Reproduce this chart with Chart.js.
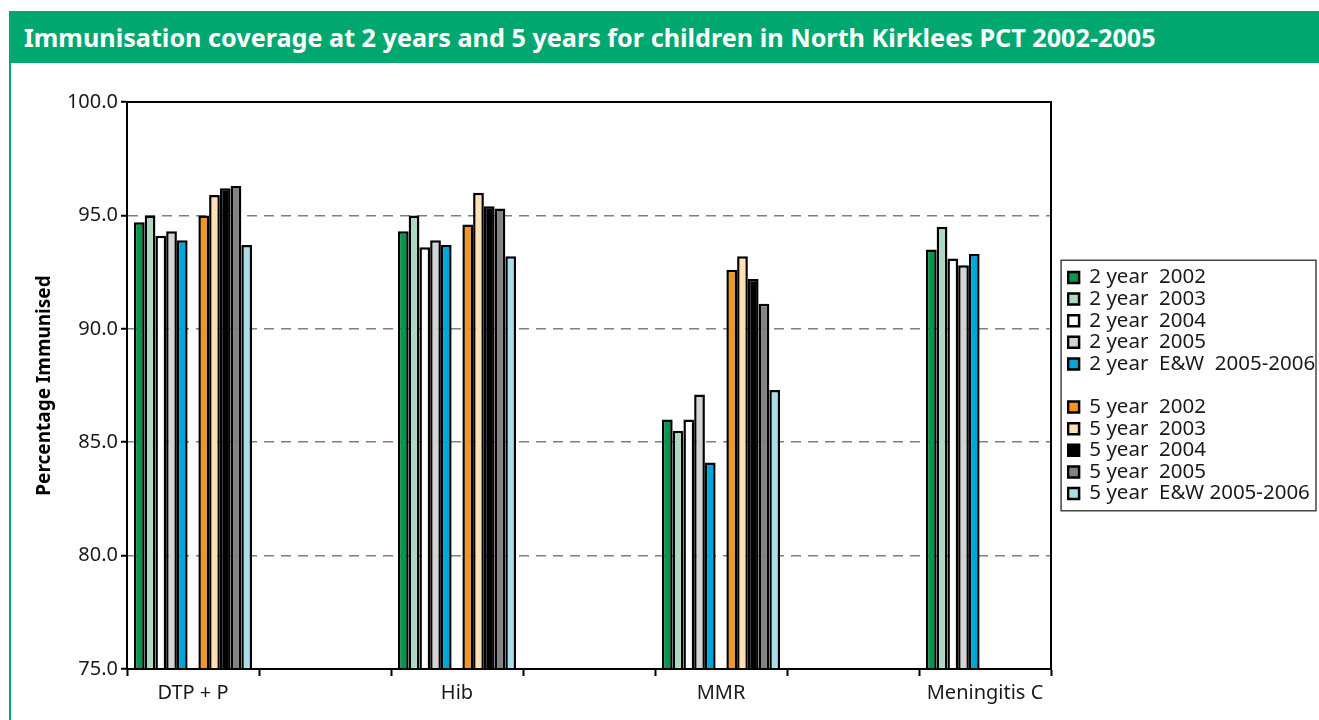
<!DOCTYPE html>
<html>
<head>
<meta charset="utf-8">
<title>Immunisation coverage - North Kirklees PCT</title>
<script src="https://cdn.jsdelivr.net/npm/chart.js@4.4.0/dist/chart.umd.min.js"></script>
<style>
    html, body { margin: 0; padding: 0; background: #fff; }
    body { width: 1319px; height: 720px; position: relative; overflow: hidden; font-family: "Noto Sans", sans-serif; }
    .title-bar {
        position: absolute; left: 9px; top: 11px; right: 0; height: 52px;
        background: #00a870; color: #fff; font-weight: bold; font-size: 25.2px;
        line-height: 52px; padding-left: 15px; box-sizing: border-box; white-space: nowrap;
    }
    .left-rule { position: absolute; left: 9px; top: 63px; bottom: 0; width: 2px; background: #00a870; }
    .chart-wrap { position: absolute; left: 0; top: 0; width: 1319px; height: 720px; }
</style>
</head>
<body>
<div class="chart-wrap"><canvas id="coverageChart" width="1319" height="720"></canvas></div>
<div class="title-bar">Immunisation coverage at 2 years and 5 years for children in North Kirklees PCT 2002-2005</div>
<div class="left-rule"></div>

<script>
// Vaccines on the x axis
const categories = ['DTP + P', 'Hib', 'MMR', 'Meningitis C'];

// % immunised at 2 years
const twoYear2002 = [94.7, 94.3, 86.0, 93.5];
const twoYear2003 = [95.0, 95.0, 85.5, 94.5];
const twoYear2004 = [94.1, 93.6, 86.0, 93.1];
const twoYear2005 = [94.3, 93.9, 87.1, 92.8];
const twoYearEW   = [93.9, 93.7, 84.1, 93.3];

// % immunised at 5 years (no Meningitis C figures)
const fiveYear2002 = [95.0, 94.6, 92.6, null];
const fiveYear2003 = [95.9, 96.0, 93.2, null];
const fiveYear2004 = [96.2, 95.4, 92.2, null];
const fiveYear2005 = [96.3, 95.3, 91.1, null];
const fiveYearEW   = [93.7, 93.2, 87.3, null];

const yTicks = [75, 80, 85, 90, 95, 100];

// the original leaves an empty slot between each vaccine group
function spaced(arr) {
    const out = [];
    arr.forEach((v, i) => {
        out.push(v);
        if (i < arr.length - 1) out.push(typeof v === 'string' ? '' : null);
    });
    return out;
}

function bars(label, values, colour) {
    return {
        label: label,
        data: spaced(values),
        backgroundColor: colour,
        borderColor: '#000',
        borderWidth: 2.5,
        borderSkipped: 'bottom',
        categoryPercentage: 0.895,
        barPercentage: 1.0
    };
}

const datasets = [
    bars('2 year  2002', twoYear2002, '#009a4e'),
    bars('2 year  2003', twoYear2003, '#acd9bf'),
    bars('2 year  2004', twoYear2004, '#ffffff'),
    bars('2 year  2005', twoYear2005, '#d1d3d4'),
    bars('2 year  E&W  2005-2006', twoYearEW, '#00a6d6'),
    // spacer between the age groups, also gives the blank legend row
    { label: '', data: spaced([null, null, null, null]), backgroundColor: 'rgba(0,0,0,0)', borderColor: 'rgba(0,0,0,0)', borderWidth: 0, categoryPercentage: 0.895, barPercentage: 1.0 },
    bars('5 year  2002', fiveYear2002, '#f7941d'),
    bars('5 year  2003', fiveYear2003, '#ffdfb5'),
    bars('5 year  2004', fiveYear2004, '#000000'),
    bars('5 year  2005', fiveYear2005, '#808285'),
    bars('5 year  E&W 2005-2006', fiveYearEW, '#abdeed')
];

const textFont = { family: '"Noto Sans", sans-serif', size: 20 };

// black frame round the plot and a thin box round the legend
const framePlugin = {
    id: 'frame',
    afterDraw(chart) {
        const c = chart.ctx;
        const a = chart.chartArea;
        c.save();
        c.strokeStyle = '#000';
        c.lineWidth = 2;
        c.strokeRect(a.left, a.top, a.right - a.left, a.bottom - a.top);

        const boxes = chart.legend.legendHitBoxes;
        if (boxes && boxes.length) {
            const left = Math.min(...boxes.map(b => b.left)) - 7;
            const top = Math.min(...boxes.map(b => b.top)) - 7;
            const bottom = Math.max(...boxes.map(b => b.top + b.height)) + 7;
            c.strokeStyle = '#444';
            c.lineWidth = 1.5;
            c.strokeRect(left, top, chart.width - 3 - left, bottom - top);
        }
        c.restore();
    }
};

const ctx = document.getElementById('coverageChart').getContext('2d');
const chart = new Chart(ctx, {
    type: 'bar',
    data: {
        labels: spaced(categories),
        datasets: datasets
    },
    options: {
        responsive: false,
        animation: false,
        layout: { padding: { top: 102, right: 0, bottom: 0, left: 0 } },
        plugins: {
            tooltip: { enabled: false },
            legend: {
                position: 'right',
                fullSize: false,
                maxWidth: 300,
                labels: {
                    boxWidth: 11,
                    boxHeight: 11,
                    padding: 1.1,
                    color: '#1a1a1a',
                    font: { family: '"Noto Sans", sans-serif', size: 20.5 }
                }
            }
        },
        scales: {
            x: {
                grid: { drawOnChartArea: false, drawTicks: true, tickLength: 7, tickColor: '#000', tickWidth: 2, offset: true },
                border: { display: true, color: '#000', width: 2 },
                ticks: { color: '#1a1a1a', font: textFont, padding: 5, maxRotation: 0, autoSkip: false },
                afterFit(scale) { scale.height = 51; }
            },
            y: {
                min: 75,
                max: 100,
                afterBuildTicks(scale) { scale.ticks = yTicks.map(v => ({ value: v })); },
                grid: { color: '#7f7f7f', lineWidth: 1.5, tickColor: '#000', tickWidth: 2, tickLength: 6, tickBorderDash: [] },
                border: { display: true, color: '#000', width: 2, dash: [10, 7] },
                ticks: { color: '#1a1a1a', font: textFont, padding: 3, callback: v => Number(v).toFixed(1) },
                title: {
                    display: true,
                    text: 'Percentage Immunised',
                    color: '#000',
                    font: { family: '"Noto Sans", sans-serif', size: 19, weight: 'bold' },
                    padding: { top: 33, bottom: 0 }
                },
                afterFit(scale) { scale.width = 127; }
            },
            // empty strip that keeps the legend clear of the plot frame
            legendGap: {
                type: 'linear',
                position: 'right',
                display: true,
                grid: { display: false },
                border: { display: false },
                ticks: { display: false },
                afterFit(scale) { scale.width = 16; }
            }
        }
    },
    plugins: [framePlugin]
});

// line the plot's right edge up with the original
const shift = chart.chartArea.right - 1051;
if (Math.abs(shift) > 0.5) {
    chart.options.layout.padding.right += shift;
    chart.update('none');
}
</script>
</body>
</html>
